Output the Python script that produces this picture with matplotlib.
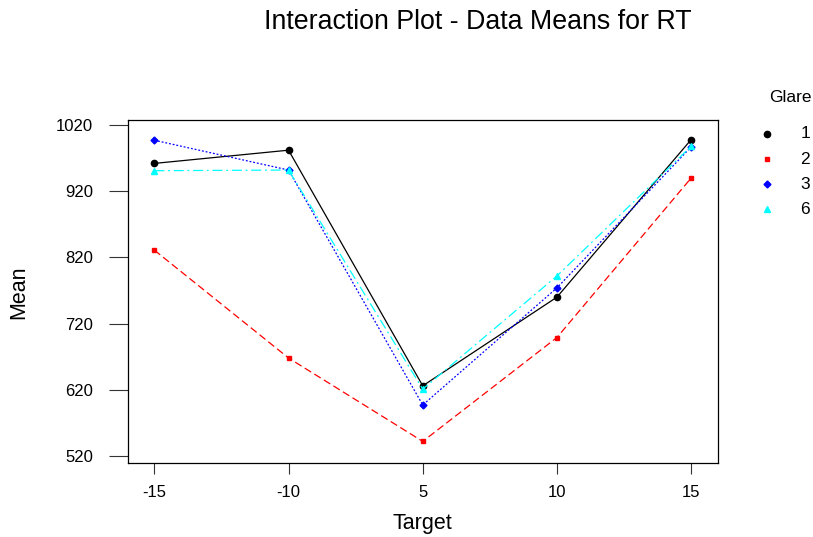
import matplotlib
matplotlib.use("Agg")
import matplotlib.pyplot as plt
from matplotlib.lines import Line2D

targets = ["-15", "-10", "5", "10", "15"]
glare_levels = ["1", "2", "3", "6"]
glare1 = [962, 982, 626, 760, 998]
glare2 = [831, 668, 542, 699, 940]
glare3 = [997, 952, 597, 774, 987]
glare6 = [951, 952, 621, 792, 988]
yticks = [520, 620, 720, 820, 920, 1020]

series = [glare1, glare2, glare3, glare6]
colors = ["black", "red", "blue", "cyan"]
markers = ["o", "s", "D", "^"]
msizes = [4.5, 3.5, 3.5, 4.5]
styles = ["-", (0, (6, 3)), (0, (1.5, 1.5)), (0, (8, 3, 1.5, 3))]

plt.rcParams['font.family'] = ['Liberation Sans', 'DejaVu Sans']
W, H = 813, 537
fig = plt.figure(figsize=(W/100, H/100), dpi=100)
ax = fig.add_axes([127.5/W, 1-463/H, (718-127.5)/W, (463-120)/H])

x = list(range(len(targets)))
for vals, c, m, ms, ls in zip(series, colors, markers, msizes, styles):
    ax.plot(x, vals, color=c, linestyle=ls, linewidth=0.9)
    ax.plot(x, vals, color=c, linestyle="none", marker=m, markersize=ms)

ax.set_xlim(-0.2, 4.2)
ax.set_ylim(509.4, 1027.6)
ax.set_xticks(x)
ax.set_xticklabels(targets)
ax.set_yticks(yticks)
ax.tick_params(axis="y", direction="out", length=13.7, width=0.8, labelsize=12, pad=11, color="#333333")
ax.tick_params(axis="x", direction="out", length=8, width=0.8, labelsize=12, pad=8, color="#333333")
for s in ax.spines.values():
    s.set_linewidth(0.9)

fig.text(422/W, 1-524/H, "Target", fontsize=15.5, ha="center", va="center")
fig.text(19/W, 1-292/H, "Mean", fontsize=15.5, ha="center", va="center", rotation=90)
fig.text(478/W, 1-22/H, "Interaction Plot - Data Means for RT", fontsize=19.3,
         ha="center", va="center")

# legend drawn manually
fig.text(790/W, 1-98/H, "Glare", fontsize=12.5, ha="center", va="center")
ys = [133.5, 159, 184.3, 209.3]
for yy, c, m, ms, lab in zip(ys, colors, markers, msizes, glare_levels):
    fig.add_artist(Line2D([767.3/W], [1-yy/H], transform=fig.transFigure,
                          marker=m, markersize=ms, color=c, linestyle="none"))
    fig.text(805/W, 1-yy/H, lab, fontsize=12.5, ha="center", va="center")

fig.savefig("out.png", dpi=100)
